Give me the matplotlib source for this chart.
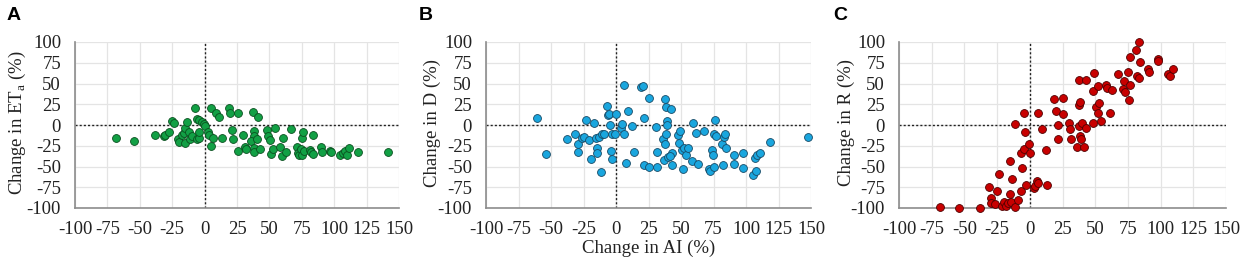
import matplotlib
matplotlib.use('Agg')
import matplotlib.pyplot as plt
import numpy as np

plt.rcParams['font.family'] = ['Liberation Serif', 'DejaVu Serif']
plt.rcParams['mathtext.fontset'] = 'custom'
plt.rcParams['mathtext.rm'] = 'Liberation Serif'
plt.rcParams['axes.unicode_minus'] = False

# Panel A: change in AI vs change in ETa
ai_a = [-68.4, -54.3, -38, -31.6, -30.3, -27.8, -25.2, -23.4, -20.8, -19.5, -17.5, -16.2,
        -15.4, -15.4, -13.6, -12.3, -11.6, -9.8, -7.2, -5.9, -4.6, -5.9, -4.1, -4.1, -2.1,
        -0.8, 0, 2.3, 3.1, 5.1, 5.1, 6.4, 9, 11.3, 13.4, 18.5, 19.8, 21.1, 21.6, 25.5, 25.5,
        29.6, 30.9, 31.9, 37, 37.8, 38.3, 35.8, 40.4, 41.2, 37.8, 37.8, 43, 48.1, 48.9, 50.2,
        51.4, 52.7, 54, 57.9, 60.4, 59.7, 63, 66.9, 71.2, 72, 72.5, 74.6, 75.1, 75.6, 75.1,
        76.4, 81.5, 82.3, 83.6, 83.6, 90, 90.5, 97, 97.7, 104.7, 106.7, 108.5, 109.8, 111.1,
        118, 141.5]
eta_a = [-15.2, -19.2, -11.6, -12.8, -11.6, -8.8, 4.8, 2.8, -17.2, -20, -12, -9.2,
         -4, -22, 4, -8, -17.2, -13.2, 20, 7.6, 6, -16.8, -15.2, -8.8, 4,
         1.2, -0.8, -8.4, -12, 20.4, -25.2, -15.2, 14, 9.2, -16, 20, 14, -6.4, -16.8, 14, -31.2,
         -12.4, -26.8, -28.8, 15.2, -6.8, -13.6, -18.8, -16.8, 9.2, -27.2, -32, -28.8, -6.4, -13.2, -18,
         -34.8, -28.8, -3.6, -26, -15.6, -36.8, -32.8, -4.4, -26.4, -33.2, -36, -28.4, -15.6, -8, -36,
         -30.8, -30, -32, -12, -35.2, -26, -32, -31.6, -32.8, -36.4, -34, -31.2, -36, -28,
         -32, -32.8]

# Panel B: change in AI vs change in D
ai_b = [-61, -54, -38, -31.5, -29.5, -29, -26.4, -24.4, -23, -20.5, -19.2, -17, -15.4, -14.9,
        -14.9, -12.8, -11.5, -10.5, -9, -6.7, -5.9, -5.1, -4.6, -3.8, -3.3, -2.8, -0.8, 0, 3.6,
        4.4, 6.2, 6.2, 7.4, 9.5, 12.1, 13.8, 19, 20.5, 21.8, 21.8, 25.6, 25.6, 30.5, 31.8, 31.8,
        37.7, 38.2, 36.4, 37.7, 37.2, 39.2, 39.2, 38.2, 40.3, 42, 42.8, 43.3, 41.5, 48, 49.2,
        48.7, 50.5, 51.8, 52.6, 53.6, 55.1, 58.7, 59.5, 61.5, 63.3, 67.9, 71.8, 72.3, 73.6, 74.9,
        75.4, 76.7, 76.2, 75.6, 81.3, 82, 83.3, 83.8, 84.4, 90.8, 91, 97.9, 97.9, 105.6, 106.9,
        107.4, 108.7, 110.8, 118.5, 148]
d_b = [8, -35, -17, -11.3, -23, -32.4, -16.2, -14.2, 6.5, -18.2, -40.5, 2, -15.4, -28.3,
       -33.2, -14.2, -56.7, -11.3, -10.5, 22.3, 12.1, 13, -0.4, -31.2, -40.5, -11.3, -11.3, 13, -3.2,
       0.8, 48.6, -11.3, -45.7, 17.4, -0.8, -32.8, 45.7, 47.4, 8.1, -47.8, 32.4, -51, -2.8, -32.4, -51,
       31.6, 21.9, -17.4, -23, -42.5, 4.9, 0, -10.5, -38.5, 19.8, -47.8, -33.2, -37.2, -12.1, -7.3,
       -21.9, -30.4, -52.6, -28.3, -35.6, -28.3, -43.7, 2, -10.1, -47, -7.3, -52.6, -55.9, -29.6, -36.4,
       -11.3, -13.4, 6.5, -50.2, -22.3, -48.6, -14.2, -11.3, -27.5, -36.4, -46.6, -33.2, -51.8, -60.7, -39.7,
       -55.1, -36.4, -33.2, -20.2, -14]

# Panel C: change in AI vs change in R
ai_c = [-68.4, -54, -37.8, -31, -29.3, -29.3, -26.8, -25, -23.5, -21.2, -19.6, -17.9, -16.6,
        -15.3, -15.3, -14, -13.3, -11.5, -11.5, -9.4, -6.9, -6.4, -5.6, -4.6, -3.8, -4.3, -2.6,
        -0.8, 0.5, 3.3, 3.8, 5.6, 6.4, 5.9, 9.4, 12.2, 13.5, 18.6, 20.4, 21.7, 21.7, 25, 25.5,
        29.8, 31.1, 31.4, 36.2, 37.5, 37.5, 38.3, 37.8, 38.3, 39, 40, 41.6, 42.6, 42.9, 48.5, 49,
        48.5, 50.5, 51.8, 52.3, 52.8, 54.3, 57.9, 59.4, 61.2, 62.5, 67.1, 71.4, 72.2, 72.7, 74.7,
        76, 76.5, 76.5, 81.1, 81.6, 83.4, 83.7, 84.2, 90.6, 91.1, 97.7, 98.2, 105.4, 107.1, 109.7]
r_c = [-99.2, -100, -99.6, -74.8, -87.6, -94, -95.2, -80, -59.6, -97.2, -92.4, -97.2, -94,
       -43.6, -83.6, -93.2, -65.2, 1.6, -98.4, -90.8, -33.2, -80, -51.6, 14, -8.8, -29.2, -72.8,
       -22.8, -33.2, -76.4, -73.2, -67.6, -70.4, 14.8, -4.4, -30.4, -72.8, 30.8, 16.4, 0, -16.4, 12.8, 32.4,
       2.8, -5.2, -17.2, -26.4, 54, 24.4, 28, -1.2, -13.2, -16.4, 2.8, -26.4, -4, 54.8, 41.2, 62.8,
       2.8, 22, 14, 46.8, 26.8, 4.8, 47.6, 44.8, 14.8, 42, 62, 42.8, 53.6, 39.6, 64.4,
       30, 82, 47.6, 90, 59.6, 99.6, 56.4, 76.4, 67.6, 63.6, 79.6, 77.2, 61.6, 59.2, 68]

ticks = [-100, -75, -50, -25, 0, 25, 50, 75, 100, 125, 150]
yticks = [-100, -75, -50, -25, 0, 25, 50, 75, 100]

W, H = 1248, 263
fig = plt.figure(figsize=(W / 100, H / 100), dpi=100)

panels = [
    ('A', ai_a, eta_a, '#12a045', '#0a4f1f', 'Change in ET$_\\mathrm{a}$ (%)', (75, 399), 17, 7),
    ('B', ai_b, d_b, '#1aa6de', '#184a66', 'Change in D (%)', (486, 811), 432, 419),
    ('C', ai_c, r_c, '#c80000', '#4d0000', 'Change in R (%)', (899, 1226), 846, 833),
]

for letter, xs, ys, fc, ec, ylab, (left, right), ylab_x, letter_x in panels:
    ax = fig.add_axes([left / W, (H - 208) / H, (right - left) / W, 166 / H])
    ax.set_xlim(-100, 150)
    ax.set_ylim(-100, 100)
    ax.set_xticks(ticks)
    ax.set_yticks(yticks)
    ax.grid(True, color='#e4e4e4', linewidth=0.9)
    ax.set_axisbelow(True)
    for side in ['top', 'right']:
        ax.spines[side].set_visible(False)
    for side in ['left', 'bottom']:
        ax.spines[side].set_color('#8c8c8c')
        ax.spines[side].set_linewidth(1.2)
    ax.tick_params(length=0, labelsize=13.5, colors='#222222')
    ax.tick_params(axis='y', pad=10)
    ax.tick_params(axis='x', pad=9)
    ax.axhline(0, color='#222222', linestyle=(0, (1.5, 1.5)), linewidth=1.0, zorder=1)
    ax.axvline(0, color='#222222', linestyle=(0, (1.5, 1.5)), linewidth=1.0, zorder=1)
    ax.scatter(xs, ys, s=32, c=fc, edgecolors=ec, linewidths=0.6, zorder=3, clip_on=False)
    fig.text(ylab_x / W, 1 - 123 / H, ylab, rotation=90, ha='center', va='center',
             fontsize=13.5, color='#222222')
    fig.text(letter_x / W, 1 - 15 / H, letter, ha='left', va='center', fontsize=14,
             fontweight='bold', family=['Liberation Sans', 'DejaVu Sans'])
    if letter == 'B':
        fig.text((left + right) / 2 / W, 1 - 248 / H, 'Change in AI (%)', ha='center',
                 va='center', fontsize=13.5, color='#222222')

fig.savefig('out.png', dpi=100)
